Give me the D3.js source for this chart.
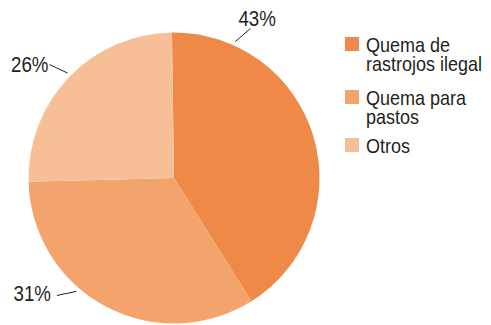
<!DOCTYPE html>
<html>
<head>
<meta charset="utf-8">
<script src="https://cdn.jsdelivr.net/npm/d3@7"></script>
<style>
  html, body { margin: 0; padding: 0; background: #ffffff; }
  svg { display: block; }
  text { font-family: "Liberation Sans", Arial, sans-serif; fill: #231f20; }
</style>
</head>
<body>
<svg id="chart" width="491" height="325"></svg>
<script>
// ---- data ----
const categories = ["Quema de rastrojos ilegal", "Quema para pastos", "Otros"];
const legendLines = [["Quema de", "rastrojos ilegal"], ["Quema para", "pastos"], ["Otros"]];
const shares = [41.3, 33.5, 25.2];          // slice sizes as drawn
const labels = ["43%", "31%", "26%"];        // printed labels
const colors = ["#ee8947", "#f2a46c", "#f6bf97"];

// ---- layout ----
const cx = 174, cy = 178, R = 145.5;
const startDeg = -0.8;
const leaderDeg = [24.2, 220.7, 314.6];     // where each leader line touches the pie
const leaderDir = [-41, 168, 205];          // direction of each leader line (screen degrees)
const leaderGap = 4, leaderLen = 20;
const labelOffset = [[-12, -3], [-6, 6], [-1, 7]];  // text anchor offset from leader end
const pctScale = 0.87, legScale = 0.9;

const svg = d3.select("#chart");
const g = svg.append("g").attr("transform", `translate(${cx},${cy})`);

const pie = d3.pie().sort(null).value(d => d)
  .startAngle(startDeg * Math.PI / 180)
  .endAngle(startDeg * Math.PI / 180 + 2 * Math.PI);
const arc = d3.arc().innerRadius(0).outerRadius(R);
const arcs = pie(shares);

g.selectAll("path.slice").data(arcs).join("path")
  .attr("class", "slice")
  .attr("d", arc)
  .attr("fill", (d, i) => colors[i]);

// leader lines and labels
const labelData = labels.map((t, i) => {
  const a = leaderDeg[i] * Math.PI / 180;
  const p1 = d3.pointRadial(a, R + leaderGap);
  const dr = leaderDir[i] * Math.PI / 180;
  const p2 = [p1[0] + leaderLen * Math.cos(dr), p1[1] + leaderLen * Math.sin(dr)];
  return { t, p1, p2, right: Math.sin(a) >= 0, i };
});

g.selectAll("line.leader").data(labelData).join("line")
  .attr("class", "leader")
  .attr("x1", d => d.p1[0]).attr("y1", d => d.p1[1])
  .attr("x2", d => d.p2[0]).attr("y2", d => d.p2[1])
  .attr("stroke", "#231f20").attr("stroke-width", 1);

g.selectAll("g.pct").data(labelData).join("g")
  .attr("class", "pct")
  .attr("transform", d => {
    const x = d.p2[0] + labelOffset[d.i][0];
    const y = d.p2[1] + labelOffset[d.i][1];
    return `translate(${x},${y}) scale(${pctScale},1)`;
  })
  .append("text")
  .attr("text-anchor", d => d.right ? "start" : "end")
  .attr("font-size", 21.5)
  .text(d => d.t);

// legend
const leg = svg.append("g").attr("transform", "translate(345,37)");
const rowY = [0, 53, 101];
const item = leg.selectAll("g.item").data(categories).join("g")
  .attr("class", "item")
  .attr("transform", (d, i) => `translate(0,${rowY[i]})`);
item.append("rect").attr("width", 14).attr("height", 14)
  .attr("fill", (d, i) => colors[i]);
item.each(function(d, i) {
  const t = d3.select(this).append("g")
    .attr("transform", `translate(21,14.5) scale(${legScale},1)`)
    .append("text")
    .attr("x", 0).attr("y", 0)
    .attr("font-size", 20);
  legendLines[i].forEach((ln, j) => {
    t.append("tspan").attr("x", 0).attr("dy", j === 0 ? 0 : 20).text(ln);
  });
});
</script>
</body>
</html>
